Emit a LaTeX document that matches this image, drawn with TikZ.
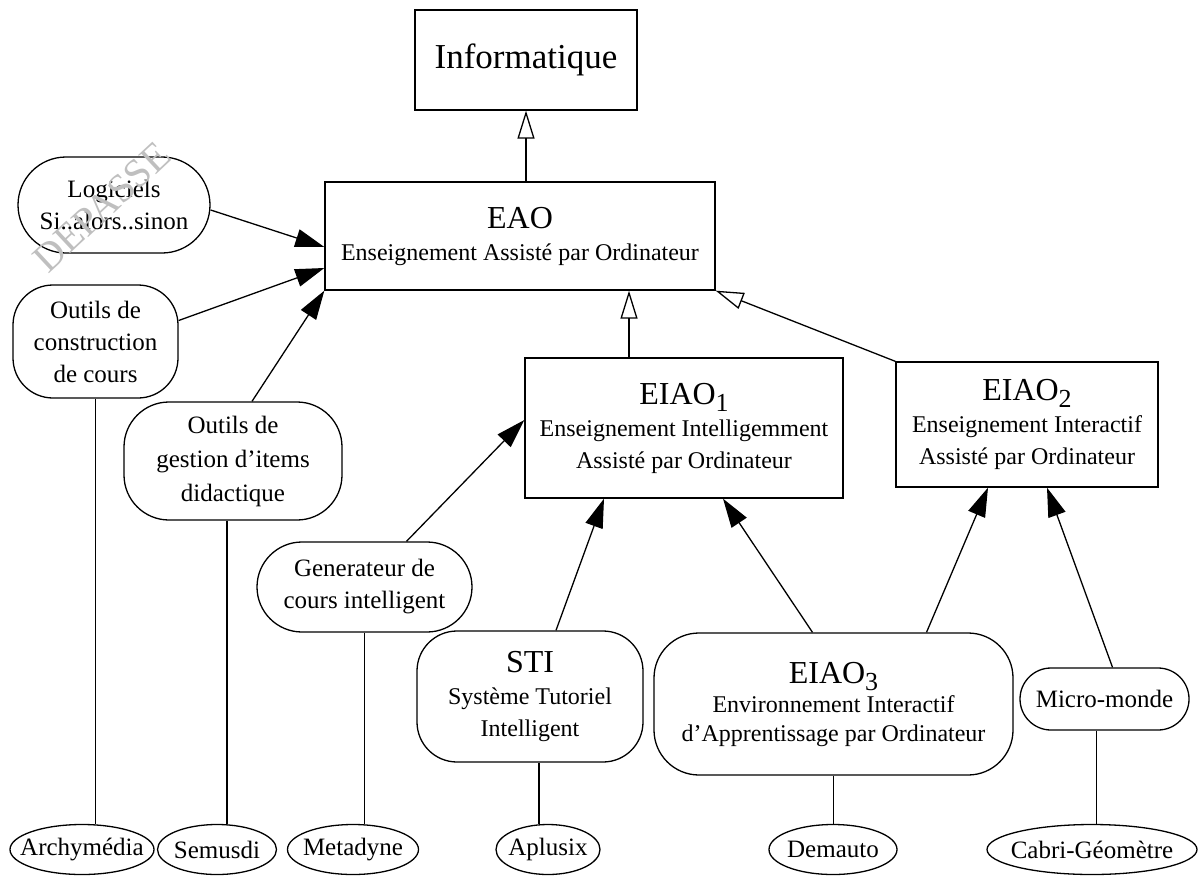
\documentclass[tikz,border=0pt]{standalone}
\usepackage{fontspec}
\setmainfont{Liberation Serif}
\usetikzlibrary{arrows.meta,shapes.geometric}

\newcommand{\idx}[1]{\raisebox{-7pt}{\fontsize{26}{26}\selectfont #1}}
\newcommand{\ttl}{\fontsize{32}{32}\selectfont}

\begin{document}
\begin{tikzpicture}[x=1pt,y=-1pt,line width=1.3pt,
      box node/.style={draw,rectangle,inner sep=0pt,align=center,font=\fontsize{24}{32}\selectfont},
      soft node/.style={draw,rectangle,rounded corners=#1,inner sep=0pt,align=center,font=\fontsize{25}{32}\selectfont},
      soft node/.default=40pt,
      leaf node/.style={draw,ellipse,inner xsep=-12pt,inner ysep=0pt,minimum height=50pt,font=\fontsize{25}{30}\selectfont},
      isa/.style={-{Triangle[open,length=28pt,width=17pt]}},
      feeds/.style={-{Triangle[length=29pt,width=18pt]}}]

      \useasboundingbox (0,0) rectangle (1198,875);

      \node[box node,minimum width=222pt,minimum height=100pt,font=\fontsize{35}{35}\selectfont] (info) at (526,60) {Informatique};
      \node[box node,minimum width=390pt,minimum height=108pt] (eao) at (520,236) {{\ttl EAO}\\Enseignement Assisté par Ordinateur};
      \node[box node,minimum width=318pt,minimum height=140pt] (eiao1) at (684,428) {{\ttl EIAO\idx{1}}\\Enseignement Intelligemment\\Assisté par Ordinateur};
      \node[box node,minimum width=262pt,minimum height=125pt] (eiao2) at (1027,424.5) {{\ttl EIAO\idx{2}}\\Enseignement Interactif\\Assisté par Ordinateur};

      \node[soft node=48pt,minimum width=192pt,minimum height=96pt] (logi) at (114,205) {Logiciels\\Si..alors..sinon};
      \node[soft node=40pt,minimum width=165pt,minimum height=113pt] (constr) at (95.5,341.5) {Outils de\\construction\\de cours};
      \node[soft node=45pt,minimum width=218pt,minimum height=118pt,font=\fontsize{25}{34}\selectfont] (gest) at (233,461) {Outils de\\gestion d’items\\didactique};
      \node[soft node=45pt,minimum width=215pt,minimum height=90pt] (gen) at (364.5,587) {Generateur de\\cours intelligent};
      \node[soft node=40pt,minimum width=226pt,minimum height=131pt,font=\fontsize{24}{32}\selectfont] (sti) at (530,696.5) {{\ttl STI}\\Système Tutoriel\\Intelligent};
      \node[soft node=45pt,minimum width=359pt,minimum height=142pt,font=\fontsize{24}{29}\selectfont] (eiao3) at (833.5,704) {{\ttl EIAO\idx{3}}\\Environnement Interactif\\d’Apprentissage par Ordinateur};
      \node[soft node=31pt,minimum width=169pt,minimum height=62pt] (micro) at (1104.5,699) {Micro-monde};

      \node[leaf node,minimum width=144pt] (arch) at (82,849.5) {Archymédia};
      \node[leaf node,minimum width=119pt] (semu) at (217,849.5) {Semusdi};
      \node[leaf node,minimum width=131pt] (meta) at (353,849.5) {Metadyne};
      \node[leaf node,minimum width=104pt] (aplu) at (548,849.5) {Aplusix};
      \node[leaf node,minimum width=128pt] (dema) at (833,849.5) {Demauto};
      \node[leaf node,minimum width=210pt] (cabri) at (1092,849.5) {Cabri-Géomètre};

      \coordinate (j1) at ([xshift=-55pt]eiao1.north);
      \coordinate (j2) at ([xshift=-6pt]gest.south);
      \coordinate (j3) at ([xshift=9pt]sti.south);
      \coordinate (j4) at ([xshift=-8pt]micro.south);

      \path[isa]
        (eao.north -| info.south) edge (info.south)
        (j1) edge (j1 |- eao.south)
        (eiao2.north west) edge (eao.south east);

      \path[feeds]
        ([yshift=-5pt]logi.east) edge ([yshift=-11pt]eao.west)
        ([yshift=21pt]constr.east) edge ([yshift=-32pt]eao.west)
        ([xshift=19pt]gest.north) edge (eao.south west)
        ([xshift=42pt]gen.north) edge ([yshift=8pt]eiao1.west)
        ([xshift=26pt]sti.north) edge ([xshift=-80pt]eiao1.south)
        ([xshift=-21pt]eiao3.north) edge ([xshift=39pt]eiao1.south)
        ([xshift=93pt]eiao3.north) edge ([xshift=-39pt]eiao2.south)
        ([xshift=8pt]micro.north) edge ([xshift=20pt]eiao2.south);

      \path
        (constr.south) edge (constr.south |- arch.north)
        (j2) edge (j2 |- semu.north)
        (gen.south) edge (gen.south |- meta.north)
        (j3) edge (j3 |- aplu.north)
        (eiao3.south) edge (eiao3.south |- dema.north)
        (j4) edge (j4 |- cabri.north);

      % tampon
      \node[rotate=43,text=gray!50,font=\fontsize{40}{40}\selectfont] (wm) at (102,207) {DEPASSE};
    \end{tikzpicture}
\end{document}
